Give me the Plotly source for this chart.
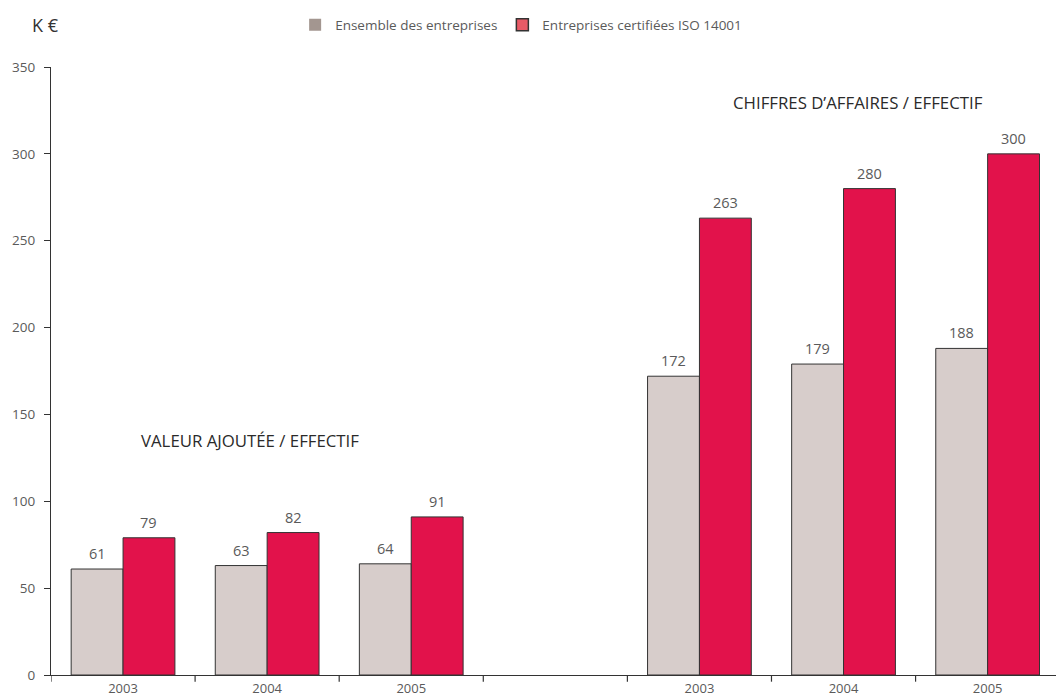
import plotly.graph_objects as go

# ---- data ----
years = ["2003", "2004", "2005", "2003", "2004", "2005"]
slots = [0, 1, 2, 4, 5, 6]          # category slots (slot 3 is the empty separator)
ensemble = [61, 63, 64, 172, 179, 188]
iso = [79, 82, 91, 263, 280, 300]
series_names = ["Ensemble des entreprises", "Entreprises certifiées ISO 14001"]
group_titles = ["VALEUR AJOUTÉE / EFFECTIF", "CHIFFRES D’AFFAIRES / EFFECTIF"]
y_ticks = [0, 50, 100, 150, 200, 250, 300, 350]

FONT = "Open Sans"
GREY_TXT = "#5a5a5a"
BAR_GREY = "#d7cdcb"
BAR_RED = "#e2124b"
LEG_GREY = "#a39690"
LEG_RED = "#e85a66"
OUTLINE = "#333333"
BW = 0.36

fig = go.Figure()
fig.add_trace(go.Bar(x=slots, y=ensemble, width=BW, offset=-BW,
                     marker=dict(color=BAR_GREY, line=dict(color=OUTLINE, width=1)),
                     showlegend=False, hoverinfo="y"))
fig.add_trace(go.Bar(x=slots, y=iso, width=BW, offset=0,
                     marker=dict(color=BAR_RED, line=dict(color=OUTLINE, width=1)),
                     showlegend=False, hoverinfo="y"))
# legend-only entries
fig.add_trace(go.Bar(x=[None], y=[None], name=series_names[0], marker=dict(color=LEG_GREY, line=dict(width=0))))
fig.add_trace(go.Bar(x=[None], y=[None], name=series_names[1], marker=dict(color=LEG_RED, line=dict(color=OUTLINE, width=1.5))))

# value labels
ann = []
for s, a, b in zip(slots, ensemble, iso):
    ann.append(dict(x=s - BW / 2, y=a, text=str(a), showarrow=False, yanchor="bottom", yshift=4,
                    font=dict(family=FONT, size=14.5, color=GREY_TXT)))
    ann.append(dict(x=s + BW / 2, y=b, text=str(b), showarrow=False, yanchor="bottom", yshift=4,
                    font=dict(family=FONT, size=14.5, color=GREY_TXT)))
# group titles
ann.append(dict(x=0.11, y=135, text=group_titles[0], showarrow=False, xanchor="left", yanchor="middle",
                font=dict(family=FONT, size=16.8, color="#2a2a2a")))
ann.append(dict(x=4.22, y=329.5, text=group_titles[1], showarrow=False, xanchor="left", yanchor="middle",
                font=dict(family=FONT, size=16.8, color="#2a2a2a")))
# unit label
ann.append(dict(xref="paper", yref="paper", x=-0.021, y=1.0695, text="K €", showarrow=False,
                xanchor="left", yanchor="middle", font=dict(family=FONT, size=18, color="#333333")))

# x tick marks at slot boundaries
shapes = []
for b in [-0.5, 0.5, 1.5, 2.5, 3.5, 4.5, 5.5]:
    shapes.append(dict(type="line", xref="x", yref="paper", x0=b, x1=b, y0=0, y1=-0.011,
                       line=dict(color=OUTLINE, width=1.2)))

fig.update_layout(
    width=1056, height=692,
    margin=dict(l=43, r=0, t=59, b=25, autoexpand=False),
    paper_bgcolor="white", plot_bgcolor="white",
    barmode="overlay",
    font=dict(family=FONT, size=12, color=GREY_TXT),
    showlegend=True,
    legend=dict(orientation="h", x=0.241, y=0.9754, xref="paper", yref="container",
                xanchor="left", yanchor="middle",
                font=dict(family=FONT, size=13.5, color=GREY_TXT), itemwidth=30,
                bgcolor="rgba(0,0,0,0)"),
    annotations=ann, shapes=shapes,
)
fig.update_xaxes(range=[-0.5, 6.53], tickvals=slots, ticktext=years, ticks="",
                 showline=True, linecolor=OUTLINE, linewidth=1.2, showgrid=False, zeroline=False,
                 tickfont=dict(family=FONT, size=13, color=GREY_TXT), ticklabelstandoff=1)
fig.update_yaxes(range=[0, 350], tickvals=y_ticks, ticks="outside", ticklen=6, tickcolor=OUTLINE,
                 tickwidth=1.2, showline=True, linecolor=OUTLINE, linewidth=1.2, showgrid=False,
                 zeroline=False, ticklabelstandoff=6,
                 tickfont=dict(family=FONT, size=13.5, color=GREY_TXT))

fig.write_html("out.html")
